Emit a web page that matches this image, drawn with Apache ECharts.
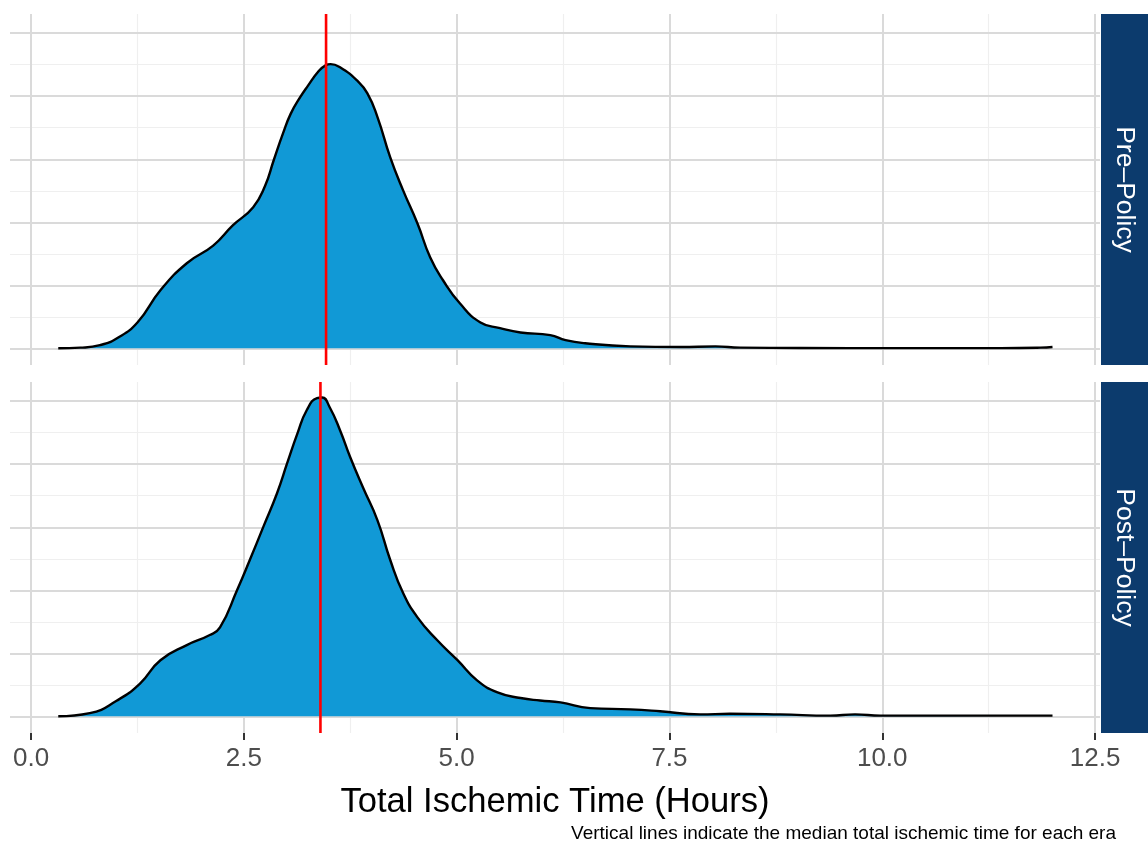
<!DOCTYPE html>
<html>
<head>
<meta charset="utf-8">
<script src="https://cdn.jsdelivr.net/npm/echarts@6/dist/echarts.min.js"></script>
<style>
html,body{margin:0;padding:0;background:#fff;}
#chart{width:1148px;height:843px;}
</style>
</head>
<body>
<div id="chart"></div>
<script>
// ---- data ----
const panelNames = ['Pre\u2013Policy', 'Post\u2013Policy'];
const xTicks = [0, 2.5, 5, 7.5, 10, 12.5];
const xMinorTicks = [1.25, 3.75, 6.25, 8.75, 11.25];
const yMajorTicks = [0, 0.1, 0.2, 0.3, 0.4, 0.5];
const yMinorTicks = [0.05, 0.15, 0.25, 0.35, 0.45];
const medians = [3.466, 3.40];

const preTime = [0.32, 0.58, 0.81, 1.01, 1.25, 1.52, 1.83, 2.14, 2.37, 2.61, 2.75, 2.85, 2.96, 3.05, 3.16, 3.25, 3.38, 3.46, 3.52, 3.63, 3.83, 3.95, 4.07, 4.22, 4.37, 4.54, 4.69, 4.84, 5.04, 5.28, 5.51, 5.75, 6.10, 6.28, 6.51, 7.04, 7.63, 8.04, 8.33, 9.04, 10.21, 11.39, 11.86, 12.0];
const preDensity = [0, 0.001, 0.005, 0.016, 0.041, 0.092, 0.135, 0.163, 0.195, 0.224, 0.258, 0.298, 0.341, 0.372, 0.398, 0.416, 0.440, 0.449, 0.451, 0.446, 0.425, 0.405, 0.367, 0.303, 0.251, 0.198, 0.144, 0.108, 0.071, 0.041, 0.032, 0.025, 0.021, 0.013, 0.008, 0.003, 0.002, 0.003, 0.001, 0.0005, 0.0003, 0.0003, 0.001, 0.002];

const postTime = [0.32, 0.69, 1.01, 1.28, 1.52, 1.83, 2.10, 2.22, 2.42, 2.57, 2.73, 2.89, 3.01, 3.13, 3.24, 3.36, 3.42, 3.51, 3.63, 3.75, 3.90, 4.07, 4.22, 4.37, 4.54, 4.77, 5.01, 5.24, 5.48, 5.75, 5.98, 6.22, 6.57, 7.04, 7.39, 7.86, 8.21, 8.80, 9.39, 9.68, 9.98, 10.8, 12.0];
const postDensity = [0, 0.005, 0.025, 0.052, 0.089, 0.113, 0.129, 0.141, 0.200, 0.248, 0.301, 0.354, 0.402, 0.449, 0.486, 0.505, 0.506, 0.490, 0.454, 0.411, 0.363, 0.311, 0.248, 0.196, 0.157, 0.121, 0.089, 0.057, 0.038, 0.029, 0.025, 0.022, 0.013, 0.011, 0.008, 0.003, 0.004, 0.003, 0.001, 0.003, 0.001, 0.001, 0.001];

// ---- layout ----
const FONT = "'Liberation Sans', Arial, Helvetica, sans-serif";
const gridLeft = 10, gridWidth = 1090;
const gridTops = [14, 382];
const gridHeight = 351;
const xMin = -0.247, xMax = 12.558;
const yMin = -0.0265, yMax = 0.5305;

const chart = echarts.init(document.getElementById('chart'), null, {renderer: 'canvas'});

const grids = gridTops.map(t => ({left: gridLeft, top: t, width: gridWidth, height: gridHeight}));

const xAxes = [0, 1].map(i => ({
  type: 'value', gridIndex: i, min: xMin, max: xMax,
  axisLine: {show: false, onZero: false},
  splitLine: {show: false},
  axisTick: i === 1 ? {show: true, customValues: xTicks, length: 7, lineStyle: {color: '#333333', width: 2}} : {show: false},
  axisLabel: i === 1 ? {show: true, customValues: xTicks, formatter: v => Number(v).toFixed(1), fontSize: 26, color: '#4d4d4d', fontFamily: FONT, margin: 13} : {show: false}
}));

const yAxes = [0, 1].map(i => ({
  type: 'value', gridIndex: i, min: yMin, max: yMax,
  axisLine: {show: false}, axisTick: {show: false}, axisLabel: {show: false}, splitLine: {show: false}
}));

function gridLineSeries(i) {
  const minorStyle = {color: '#efefef', width: 1.2, type: 'solid'};
  const majorStyle = {color: '#dadada', width: 2, type: 'solid'};
  const items = [];
  yMinorTicks.forEach(v => items.push({yAxis: v, lineStyle: minorStyle}));
  xMinorTicks.forEach(v => items.push({xAxis: v, lineStyle: minorStyle}));
  yMajorTicks.forEach(v => items.push({yAxis: v, lineStyle: majorStyle}));
  xTicks.forEach(v => items.push({xAxis: v, lineStyle: majorStyle}));
  return {
    type: 'line', xAxisIndex: i, yAxisIndex: i, data: [], z: 1, silent: true,
    markLine: {z: 1, silent: true, symbol: ['none', 'none'], label: {show: false}, animation: false, data: items}
  };
}

function densitySeries(i, xs, ys) {
  return {
    type: 'line', xAxisIndex: i, yAxisIndex: i, z: 3,
    data: xs.map((x, k) => [x, ys[k]]),
    smooth: 0.5, showSymbol: false, symbol: 'none',
    lineStyle: {color: '#000000', width: 2.4},
    areaStyle: {color: '#1199d6', opacity: 1, origin: 0},
    animation: false
  };
}

function medianSeries(i, m) {
  return {
    type: 'line', xAxisIndex: i, yAxisIndex: i, z: 4,
    data: [[m, yMin], [m, yMax]],
    showSymbol: false, symbol: 'none',
    lineStyle: {color: '#ff0000', width: 2.6},
    animation: false
  };
}

const graphics = [];
panelNames.forEach((name, i) => {
  graphics.push({
    type: 'rect', left: 1101, top: gridTops[i],
    shape: {width: 47, height: gridHeight},
    style: {fill: '#0c3b6d'}, silent: true
  });
  graphics.push({
    type: 'text', x: 1124.5, y: gridTops[i] + gridHeight / 2,
    rotation: -Math.PI / 2,
    style: {text: name, fill: '#ffffff', fontSize: 26.5, fontFamily: FONT, align: 'center', verticalAlign: 'middle'},
    silent: true
  });
});
graphics.push({
  type: 'text', x: 555, y: 802,
  style: {text: 'Total Ischemic Time (Hours)', fill: '#000000', fontSize: 34.6, fontFamily: FONT, align: 'center', verticalAlign: 'middle'}
});
graphics.push({
  type: 'text', x: 1116, y: 834,
  style: {text: 'Vertical lines indicate the median total ischemic time for each era', fill: '#000000', fontSize: 19, fontFamily: FONT, align: 'right', verticalAlign: 'middle'}
});

chart.setOption({
  backgroundColor: '#ffffff',
  animation: false,
  grid: grids,
  xAxis: xAxes,
  yAxis: yAxes,
  series: [
    gridLineSeries(0), gridLineSeries(1),
    densitySeries(0, preTime, preDensity),
    densitySeries(1, postTime, postDensity),
    medianSeries(0, medians[0]),
    medianSeries(1, medians[1])
  ],
  graphic: graphics
});
</script>
</body>
</html>
